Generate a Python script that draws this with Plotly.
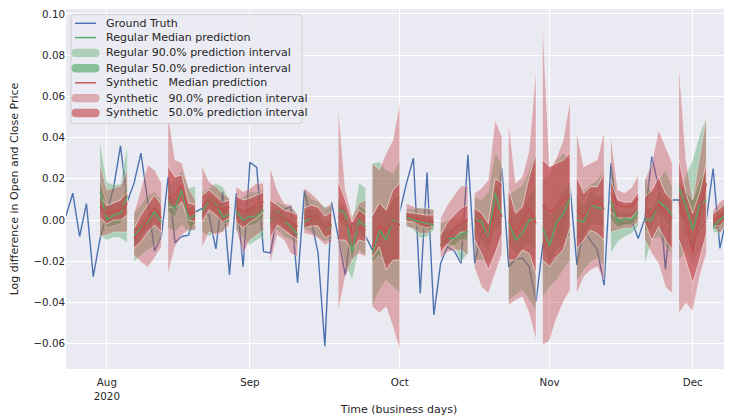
import pandas as pd
import plotly.graph_objects as go

# ---------------- data ----------------
start_date = "2020-07-24"
n_days = 100
horizon = 5

gt_values = [
    0.002, 0.013, -0.008, 0.008, -0.0275,
    -0.009, 0.003, 0.016, 0.036, 0.009,
    0.018, 0.0325, 0.009, -0.015, -0.008,
    0.021, -0.011, -0.008, -0.0073, 0.004,
    0.0057, 0.002, -0.014, 0.0137, -0.0267,
    0.013, -0.0227, 0.028, 0.0255, -0.0154,
    -0.016, 0.002, 0.005, 0.0065, -0.0305,
    0.0142, 0.0, -0.016, -0.0612, 0.0085,
    -0.009, -0.0267, -0.001, -0.004, -0.008,
    -0.0146, -0.008, -0.003, 0.0, 0.004,
    0.018, 0.030, -0.0356, 0.023, -0.046,
    -0.021, -0.013, -0.015, -0.021, 0.0316,
    -0.021, -0.006, -0.003, 0.004, 0.025,
    -0.0227, -0.019, -0.0186, -0.0226, -0.0396,
    -0.012, -0.005, -0.010, 0.0, 0.016,
    -0.0218, -0.005, -0.010, -0.0146, -0.0316,
    0.0275, 0.0, -0.002, 0.0, -0.009,
    0.001, 0.0308, 0.016, -0.024, 0.0097,
    0.0097, -0.0065, -0.012, -0.005, 0.0,
    0.025, -0.0138, 0.0016, 0.006, 0.003,
]

forecast_starts = [
    "2020-07-31", "2020-08-07", "2020-08-14", "2020-08-21", "2020-08-28",
    "2020-09-04", "2020-09-11", "2020-09-18", "2020-09-25", "2020-10-02",
    "2020-10-09", "2020-10-16", "2020-10-23", "2020-10-30", "2020-11-06",
    "2020-11-13", "2020-11-20", "2020-11-27", "2020-12-04",
]

# Regular model (green)
reg_median = [
    0.0137, 0.0, 0.0024, 0.0033, 0.0117,
    -0.008, -0.004, -0.001, 0.004, -0.001,
    0.0081, 0.0057, 0.0146, 0.0005, 0.0024,
    0.004, 0.0097, 0.0073, 0.0016, 0.0024,
    0.004, 0.0, 0.0016, 0.0019, 0.0049,
    0.0, 0.004, 0.0, -0.0033, -0.0073,
    -0.0008, 0.0016, 0.0016, -0.004, -0.0033,
    0.0052, 0.0033, -0.0154, 0.0, -0.0033,
    -0.016, -0.005, -0.0097, 0.0, -0.0024,
    0.0016, 0.0, -0.0008, -0.0016, -0.0024,
    -0.012, -0.009, -0.009, -0.007, -0.0055,
    0.0, -0.0008, -0.0097, 0.013, 0.0016,
    -0.0008, -0.0097, -0.0065, 0.0, 0.0008,
    -0.0039, -0.0126, -0.001, 0.0029, 0.0107,
    0.0, -0.001, 0.0073, 0.0058, 0.0058,
    0.0089, -0.0008, 0.0008, 0.0, 0.004,
    0.0, 0.0, 0.0089, 0.0065, 0.0024,
    0.0154, 0.0073, -0.0049, 0.0073, 0.0097,
    -0.0033, 0.0, 0.0033, 0.004, 0.0044,
]
reg_hi90 = [
    0.0379, 0.0184, 0.017, 0.0175, 0.0364,
    0.0039, 0.0073, 0.0121, 0.0136, 0.0097,
    0.017, 0.0194, 0.0243, 0.0155, 0.0165,
    0.0137, 0.0154, 0.0178, 0.0162, 0.0097,
    0.0097, 0.0113, 0.0137, 0.0137, 0.0146,
    0.0065, 0.0089, 0.0073, 0.0058, 0.0034,
    0.0146, 0.0105, 0.0089, 0.0065, 0.0065,
    0.0097, 0.0073, -0.0024, 0.018, 0.0155,
    0.0275, 0.0283, 0.0243, 0.0227, 0.0291,
    0.0057, 0.0052, 0.0062, 0.0057, 0.0052,
    -0.0016, 0.0, 0.0008, 0.0016, 0.0,
    0.0113, 0.0097, 0.0137, 0.0324, 0.0275,
    0.0121, 0.0146, 0.017, 0.0243, 0.034,
    0.0194, 0.0227, 0.0291, 0.0324, 0.0291,
    0.0194, 0.0146, 0.017, 0.0194, 0.0243,
    0.0275, 0.0097, 0.0073, 0.0089, 0.013,
    0.021, 0.013, 0.0194, 0.0243, 0.0162,
    0.0121, 0.0218, 0.0291, 0.0413, 0.050,
    0.0033, 0.0065, 0.0089, 0.0146, 0.0146,
]
reg_lo90 = [
    -0.0078, -0.0097, -0.0083, -0.0087, -0.0112,
    -0.0204, -0.017, -0.0146, -0.0121, -0.0097,
    -0.0039, -0.0058, -0.0024, -0.0058, -0.0049,
    -0.0058, -0.0078, -0.0063, -0.0058, -0.001,
    -0.0049, -0.0087, -0.0121, -0.0097, -0.0081,
    -0.0049, -0.0049, -0.0081, -0.0097, -0.0121,
    -0.0039, -0.0063, -0.0081, -0.0105, -0.0089,
    -0.0097, -0.0218, -0.0291, -0.0146, -0.0175,
    -0.0413, -0.034, -0.0291, -0.0324, -0.0356,
    -0.0029, -0.0049, -0.0089, -0.0081, -0.0049,
    -0.0097, -0.013, -0.013, -0.0202, -0.0162,
    -0.0194, -0.0194, -0.021, -0.0162, -0.0081,
    -0.0388, -0.0364, -0.034, -0.0388, -0.0437,
    -0.0372, -0.0324, -0.0291, -0.0243, -0.0194,
    -0.0291, -0.0243, -0.0204, -0.0184, -0.0218,
    -0.0162, -0.0105, -0.0081, -0.0065, -0.0033,
    -0.021, -0.0097, -0.0081, -0.013, -0.0162,
    -0.0194, -0.0146, -0.0209, -0.0146, -0.0097,
    -0.0057, -0.0065, -0.0024, 0.0, 0.0,
]
reg_hi50 = [
    0.0194, 0.0073, 0.0083, 0.0087, 0.0184,
    -0.0039, -0.001, 0.0034, 0.0073, 0.0049,
    0.0121, 0.0107, 0.0184, 0.0058, 0.0083,
    0.0073, 0.0131, 0.0107, 0.0073, 0.0073,
    0.0073, 0.0049, 0.0068, 0.0073, 0.0097,
    0.0039, 0.0068, 0.0039, 0.001, -0.0024,
    0.0049, 0.0058, 0.0049, 0.0, 0.001,
    0.0073, 0.0058, -0.0087, 0.0073, 0.0049,
    0.0024, 0.0097, 0.0039, 0.0107, 0.0121,
    0.0039, 0.0029, 0.0024, 0.0019, 0.001,
    -0.0068, -0.0039, -0.0039, -0.001, 0.0,
    0.0049, 0.0039, -0.0024, 0.0194, 0.0121,
    0.0073, 0.0024, 0.0049, 0.0121, 0.017,
    0.0073, 0.0024, 0.0097, 0.0146, 0.0194,
    0.0121, 0.0073, 0.0146, 0.0121, 0.0121,
    0.0146, 0.0039, 0.0039, 0.0039, 0.0073,
    0.0073, 0.0058, 0.0146, 0.0121, 0.0073,
    0.0194, 0.0146, 0.0097, 0.0194, 0.0252,
    0.001, 0.0039, 0.0068, 0.0083, 0.0083,
]
reg_lo50 = [
    0.0049, -0.0039, -0.0029, -0.0019, 0.0039,
    -0.0136, -0.0087, -0.0039, -0.001, -0.0039,
    0.0039, 0.001, 0.0097, -0.0039, -0.0019,
    0.001, 0.0058, 0.0034, -0.0019, -0.001,
    0.001, -0.0029, -0.0029, -0.0019, 0.001,
    -0.0029, 0.0, -0.0039, -0.0068, -0.0097,
    -0.0049, -0.0024, -0.0029, -0.0078, -0.0068,
    -0.001, -0.0039, -0.0204, -0.0073, -0.0097,
    -0.0204, -0.017, -0.0218, -0.0204, -0.0184,
    0.0, -0.0019, -0.0039, -0.0049, -0.0049,
    -0.0136, -0.0117, -0.0126, -0.0097, -0.0097,
    -0.0073, -0.0097, -0.017, -0.0049, -0.0049,
    -0.0121, -0.017, -0.0146, -0.0121, -0.0146,
    -0.0146, -0.0218, -0.0146, -0.0121, -0.0073,
    -0.0097, -0.0087, -0.0024, -0.0024, -0.0039,
    0.0, -0.0039, -0.0024, -0.0024, 0.001,
    -0.0058, -0.0039, 0.0024, -0.001, -0.0049,
    0.0024, -0.0039, -0.017, -0.0039, 0.0024,
    -0.0049, -0.0039, -0.001, 0.001, 0.001,
]

# Synthetic model (red)
syn_median = [
    0.0063, 0.0029, 0.004, 0.0049, 0.0083,
    -0.009, -0.005, 0.0, 0.006, 0.001,
    0.011, 0.0121, 0.017, 0.0033, 0.004,
    0.0068, 0.0097, 0.0065, 0.0049, 0.0062,
    0.0065, 0.004, 0.0049, 0.0081, 0.0089,
    0.0008, 0.0033, 0.0, -0.0008, -0.0033,
    0.0008, 0.0016, 0.0016, -0.004, -0.0024,
    0.0016, 0.0, -0.0065, -0.0033, -0.0049,
    -0.013, -0.0024, -0.0057, -0.0008, -0.0024,
    0.0019, 0.0013, 0.0, -0.0008, -0.0008,
    -0.0125, -0.009, -0.004, -0.001, 0.0,
    0.0, -0.0033, -0.0105, 0.0065, 0.0016,
    0.0, -0.0065, 0.0, 0.0057, -0.0016,
    0.0073, 0.0039, 0.0058, 0.0097, 0.0121,
    0.0049, 0.0016, 0.0073, 0.0097, 0.0052,
    0.013, 0.0073, 0.0065, 0.0065, 0.0105,
    0.0049, 0.0024, 0.0081, 0.0033, 0.0008,
    0.0081, 0.0, -0.0162, 0.0033, 0.0178,
    0.0, 0.0016, 0.0049, 0.0057, 0.0058,
]
syn_hi90 = [
    0.0267, 0.0146, 0.0155, 0.0165, 0.0243,
    0.0034, 0.0146, 0.0267, 0.0243, 0.018,
    0.051, 0.0291, 0.0277, 0.0155, 0.0097,
    0.0259, 0.0186, 0.0162, 0.013, 0.0105,
    0.0162, 0.0137, 0.0154, 0.0178, 0.0178,
    0.0251, 0.0146, 0.0081, 0.0073, 0.0024,
    0.0154, 0.013, 0.0097, 0.0057, 0.0081,
    0.0534, 0.0146, 0.0016, 0.0081, 0.0097,
    0.0275, 0.0243, 0.0324, 0.0388, 0.0568,
    0.0081, 0.0065, 0.0057, 0.0057, 0.0049,
    0.001, 0.0073, 0.0121, 0.0165, 0.0165,
    0.013, 0.0154, 0.0194, 0.0485, 0.0404,
    0.0469, 0.0178, 0.021, 0.034, 0.0736,
    0.0937, 0.0243, 0.0301, 0.0388, 0.0583,
    0.0421, 0.0259, 0.0275, 0.0291, 0.0429,
    0.0403, 0.0146, 0.0131, 0.0155, 0.0218,
    0.0194, 0.0275, 0.0437, 0.0356, 0.0275,
    0.0738, 0.0291, 0.0097, 0.0291, 0.050,
    0.0049, 0.0089, 0.0113, 0.013, 0.0131,
]
syn_lo90 = [
    -0.0078, -0.0073, -0.0058, -0.0058, -0.0058,
    -0.017, -0.0204, -0.0228, -0.0184, -0.0131,
    -0.0257, -0.013, -0.0073, -0.0049, -0.0049,
    -0.0131, -0.0058, -0.0073, -0.0058, -0.0024,
    -0.0049, -0.0162, -0.0097, -0.0073, -0.0049,
    -0.021, -0.0073, -0.0097, -0.0162, -0.0178,
    -0.0065, -0.0073, -0.0089, -0.0121, -0.0105,
    -0.0437, -0.0275, -0.0194, -0.0162, -0.0178,
    -0.0421, -0.0451, -0.0421, -0.0518, -0.0631,
    -0.0033, -0.004, -0.0065, -0.0065, -0.0033,
    -0.0184, -0.0155, -0.0146, -0.0146, -0.017,
    -0.0234, -0.0324, -0.0356, -0.0259, -0.0162,
    -0.0413, -0.0388, -0.0372, -0.0453, -0.0583,
    -0.0607, -0.0583, -0.0476, -0.0398, -0.034,
    -0.0356, -0.0275, -0.0243, -0.0227, -0.0291,
    -0.0058, -0.0049, -0.0039, -0.0039, -0.001,
    -0.0097, -0.0162, -0.021, -0.0324, -0.0356,
    -0.0451, -0.0403, -0.0442, -0.0277, -0.016,
    -0.0033, -0.0065, -0.0016, 0.0, 0.0,
]
syn_hi50 = [
    0.0117, 0.0068, 0.0083, 0.0097, 0.0136,
    -0.0039, 0.0024, 0.0073, 0.0121, 0.0073,
    0.0259, 0.021, 0.0218, 0.0083, 0.0073,
    0.0121, 0.0146, 0.0117, 0.0087, 0.0097,
    0.0117, 0.0097, 0.0107, 0.0121, 0.0136,
    0.0097, 0.0073, 0.0049, 0.0039, 0.0024,
    0.0058, 0.0073, 0.0063, 0.0019, 0.0039,
    0.0184, 0.0097, -0.001, 0.0049, 0.0024,
    0.002, 0.0083, 0.0049, 0.0146, 0.018,
    0.0039, 0.0034, 0.0029, 0.0024, 0.0024,
    -0.0073, -0.001, 0.0024, 0.0058, 0.0073,
    0.0057, 0.0033, -0.0016, 0.0202, 0.0178,
    0.0146, 0.0033, 0.0065, 0.021, 0.0324,
    0.0291, 0.0259, 0.0275, 0.0291, 0.0324,
    0.021, 0.013, 0.0162, 0.0162, 0.0227,
    0.0194, 0.0097, 0.0087, 0.0087, 0.0136,
    0.0113, 0.0146, 0.021, 0.013, 0.0097,
    0.0291, 0.013, 0.0033, 0.013, 0.0275,
    0.0029, 0.0058, 0.0083, 0.0097, 0.0097,
]
syn_lo50 = [
    0.001, -0.0019, 0.0, 0.0, 0.0024,
    -0.0136, -0.0107, -0.0058, -0.0024, -0.0058,
    0.0065, 0.0057, 0.0089, 0.0, -0.0008,
    -0.001, 0.0049, 0.0024, -0.001, 0.001,
    -0.001, -0.0039, -0.001, 0.001, 0.0039,
    -0.0087, -0.0024, -0.0049, -0.0073, -0.0097,
    -0.0039, -0.0029, -0.0029, -0.0087, -0.0073,
    -0.0097, -0.0097, -0.0146, -0.0097, -0.0107,
    -0.018, -0.013, -0.0243, -0.0194, -0.0194,
    -0.0005, -0.001, -0.0029, -0.0039, -0.0029,
    -0.0155, -0.0117, -0.0087, -0.0058, -0.0058,
    -0.0097, -0.0162, -0.0243, -0.0162, -0.0065,
    -0.0194, -0.0194, -0.0146, -0.0162, -0.0259,
    -0.0194, -0.0227, -0.0178, -0.0146, -0.0033,
    -0.0137, -0.0097, -0.0049, -0.0065, -0.0097,
    0.0039, 0.001, 0.001, 0.001, 0.0049,
    -0.0016, -0.0097, -0.0033, -0.0097, -0.0146,
    -0.0097, -0.0194, -0.0307, -0.0194, -0.0065,
    -0.0029, -0.0029, 0.001, 0.0024, 0.0024,
]

month_ticks = ["2020-08-03", "2020-09-01", "2020-10-01", "2020-11-02", "2020-12-01"]
month_labels = ["Aug<br>2020", "Sep", "Oct", "Nov", "Dec"]
y_ticks = [-0.06, -0.04, -0.02, 0.00, 0.02, 0.04, 0.06, 0.08, 0.10]

# ---------------- styling ----------------
BLUE = (76, 114, 176)
GREEN = (85, 168, 104)
RED = (196, 78, 82)
A90 = 0.05 ** 0.3
A50 = 0.25 ** 0.3
FONT = "DejaVu Sans, Verdana, sans-serif"
TXT = "#262626"
OFF = 8                      # the page body margin that surrounds the figure
W, H = 732 - OFF, 416 - OFF
ML, MR, MT, MB = 66 - OFF, 0, 9 - OFF, 47
PW, PH = W - ML - MR, H - MT - MB


def rgba(c, a):
    return f"rgba({c[0]},{c[1]},{c[2]},{a:.3f})"


def px(x):  # page pixel -> paper x
    return (x - OFF - ML) / PW


def py(y):  # page pixel -> paper y
    return (H - MB - (y - OFF)) / PH


dates = pd.bdate_range(start_date, periods=n_days)
fig = go.Figure()

# ground truth (drawn beneath the bands)
fig.add_trace(go.Scatter(x=dates, y=gt_values, mode="lines",
                         line=dict(color=rgba(BLUE, 1), width=1.4),
                         name="Ground Truth"))

windows = []
for w, s in enumerate(forecast_starts):
    i0 = dates.get_loc(pd.Timestamp(s))
    windows.append((list(dates[i0:i0 + horizon]), slice(w * horizon, (w + 1) * horizon)))

bands = [
    (reg_hi90, reg_lo90, GREEN, A90, "Regular 90.0% prediction interval"),
    (reg_hi50, reg_lo50, GREEN, A50, "Regular 50.0% prediction interval"),
    (syn_hi90, syn_lo90, RED, A90, "Synthetic 90.0% prediction interval"),
    (syn_hi50, syn_lo50, RED, A50, "Synthetic 50.0% prediction interval"),
]
for wd, sl in windows:
    for hi, lo, col, a, nm in bands:
        h = hi[sl]
        l = lo[sl]
        fig.add_trace(go.Scatter(
            x=wd + wd[::-1], y=h + l[::-1], mode="lines", fill="toself", name=nm,
            fillcolor=rgba(col, a), line=dict(color=f"rgba(255,255,255,{a:.3f})", width=0.8),
            hoverinfo="skip"))

# median lines on top
for wd, sl in windows:
    fig.add_trace(go.Scatter(x=wd, y=reg_median[sl], mode="lines", name="Regular Median prediction",
                             line=dict(color=rgba(GREEN, 1), width=1.4)))
for wd, sl in windows:
    fig.add_trace(go.Scatter(x=wd, y=syn_median[sl], mode="lines", name="Synthetic Median prediction",
                             line=dict(color=rgba(RED, 1), width=1.4)))

# ---------------- legend (drawn as shapes + text) ----------------
NB = "\u00a0"
legend_items = [
    ("Ground Truth", "line", rgba(BLUE, 1)),
    ("Regular Median prediction", "line", rgba(GREEN, 1)),
    ("Regular 90.0% prediction interval", "bar", rgba(GREEN, A90)),
    ("Regular 50.0% prediction interval", "bar", rgba(GREEN, A50)),
    ("Synthetic" + NB * 3 + "Median prediction", "line", rgba(RED, 1)),
    ("Synthetic" + NB * 3 + "90.0% prediction interval", "bar", rgba(RED, A90)),
    ("Synthetic" + NB * 3 + "50.0% prediction interval", "bar", rgba(RED, A50)),
]
shapes = []
annotations = []


def rrect(x0, y0, x1, y1, r):
    X0, X1 = px(x0), px(x1)
    Y0, Y1 = py(y0), py(y1)
    rx = r / PW
    ry = r / PH
    return (f"M {X0 + rx},{Y0} L {X1 - rx},{Y0} Q {X1},{Y0} {X1},{Y0 - ry} "
            f"L {X1},{Y1 + ry} Q {X1},{Y1} {X1 - rx},{Y1} L {X0 + rx},{Y1} "
            f"Q {X0},{Y1} {X0},{Y1 + ry} L {X0},{Y0 - ry} Q {X0},{Y0} {X0 + rx},{Y0} Z")


shapes.append(dict(type="path", xref="paper", yref="paper",
                   path=rrect(71, 14.5, 302, 123.5, 3),
                   fillcolor="rgba(236,236,243,0.82)", line=dict(color="#CFCFCF", width=1),
                   layer="above"))
row_y = [23.3, 37.6, 52.9, 68.2, 82.8, 98.1, 113.0]
for (label, kind, col), yy in zip(legend_items, row_y):
    if kind == "line":
        shapes.append(dict(type="line", xref="paper", yref="paper",
                           x0=px(75), x1=px(96), y0=py(yy), y1=py(yy),
                           line=dict(color=col, width=1.4), layer="above"))
    else:
        shapes.append(dict(type="path", xref="paper", yref="paper",
                           path=rrect(71.5, yy - 4.2, 99.5, yy + 4.2, 4.2),
                           fillcolor=col, line=dict(width=0), layer="above"))
    annotations.append(dict(xref="paper", yref="paper", x=px(104), y=py(yy),
                            xanchor="left", yanchor="middle", text=label, showarrow=False,
                            font=dict(family=FONT, size=11, color=TXT)))

fig.update_layout(
    width=W, height=H,
    margin=dict(l=ML, r=MR, t=MT, b=MB, autoexpand=False),
    paper_bgcolor="white", plot_bgcolor="#EAEAF2",
    font=dict(family=FONT, color=TXT, size=11),
    showlegend=False,
    shapes=shapes, annotations=annotations,
)
fig.update_xaxes(
    type="date",
    rangebreaks=[dict(bounds=["sat", "mon"])],
    range=[dates[0], "2020-12-08 18:30"],
    tickvals=month_ticks, ticktext=month_labels,
    showgrid=True, gridcolor="white", gridwidth=1, zeroline=False,
    ticks="", ticklabelstandoff=6, ticklabeloverflow="allow",
    tickfont=dict(size=10.3, color=TXT, family=FONT),
    title=dict(text="Time (business days)", font=dict(size=11, color=TXT, family=FONT), standoff=5),
    showline=False, automargin=False,
)
fig.update_yaxes(
    range=[-0.0723, 0.1024],
    tickvals=y_ticks, tickformat=".2f",
    showgrid=True, gridcolor="white", gridwidth=1, zeroline=False,
    ticks="", ticklabeloverflow="allow",
    tickfont=dict(size=10.3, color=TXT, family=FONT),
    title=dict(text="Log difference in Open and Close Price", font=dict(size=11, color=TXT, family=FONT), standoff=13),
    showline=False, automargin=False,
)

fig.write_html("out.html")
